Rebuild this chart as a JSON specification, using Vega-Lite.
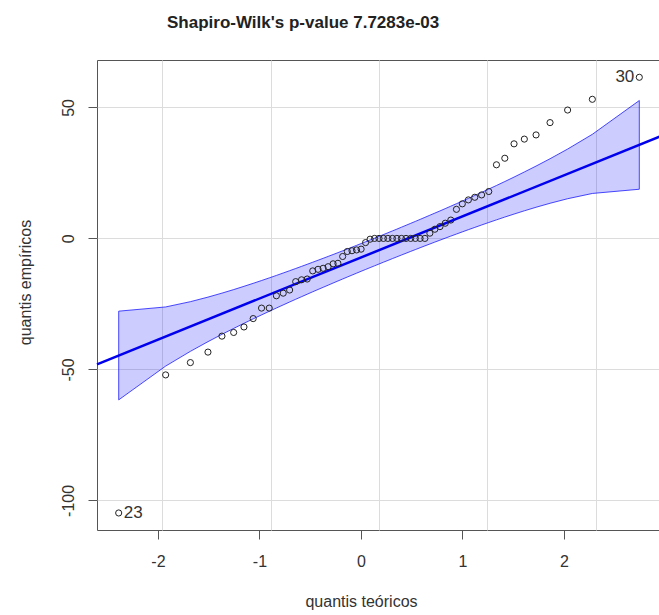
{
  "$schema": "https://vega.github.io/schema/vega-lite/v6.json",
  "width": 564,
  "height": 470,
  "autosize": {"type": "none"},
  "padding": {"left": 97, "top": 60, "right": 0, "bottom": 85},
  "background": "white",
  "config": {
    "font": "Liberation Sans",
    "view": {"stroke": "#555555", "strokeWidth": 1},
    "axis": {
      "labelFont": "Liberation Sans",
      "titleFont": "Liberation Sans",
      "labelFontSize": 16,
      "titleFontSize": 16,
      "labelColor": "#333333",
      "titleColor": "#333333",
      "titleFontWeight": "normal",
      "tickColor": "#555555",
      "tickSize": 9,
      "domain": false,
      "gridColor": "#dcdcdc",
      "gridWidth": 1
    }
  },
  "title": {
    "text": "Shapiro-Wilk's p-value 7.7283e-03",
    "anchor": "start",
    "frame": "group",
    "dx": 70,
    "offset": 15,
    "baseline": "alphabetic",
    "fontSize": 17,
    "fontWeight": "bold",
    "font": "Liberation Sans",
    "color": "#222222"
  },
  "datasets": {
    "pts": [
      {"z": -2.400, "q": -104.8, "label": "23"},
      {"z": -1.967, "q": -52.1},
      {"z": -1.739, "q": -47.4},
      {"z": -1.577, "q": -43.4},
      {"z": -1.448, "q": -37.3},
      {"z": -1.340, "q": -35.9},
      {"z": -1.245, "q": -33.8},
      {"z": -1.160, "q": -30.6},
      {"z": -1.083, "q": -26.6},
      {"z": -1.012, "q": -26.6},
      {"z": -0.946, "q": -21.9},
      {"z": -0.883, "q": -20.9},
      {"z": -0.824, "q": -19.7},
      {"z": -0.768, "q": -16.5},
      {"z": -0.714, "q": -15.8},
      {"z": -0.662, "q": -15.5},
      {"z": -0.611, "q": -12.4},
      {"z": -0.562, "q": -11.8},
      {"z": -0.515, "q": -11.4},
      {"z": -0.469, "q": -10.8},
      {"z": -0.423, "q": -9.7},
      {"z": -0.379, "q": -9.5},
      {"z": -0.335, "q": -6.9},
      {"z": -0.292, "q": -5.0},
      {"z": -0.249, "q": -4.7},
      {"z": -0.207, "q": -4.4},
      {"z": -0.165, "q": -4.1},
      {"z": -0.124, "q": -1.6},
      {"z": -0.082, "q": -0.3},
      {"z": -0.041, "q": 0},
      {"z": 0.000, "q": 0},
      {"z": 0.041, "q": 0},
      {"z": 0.082, "q": 0},
      {"z": 0.124, "q": 0},
      {"z": 0.165, "q": 0},
      {"z": 0.207, "q": 0},
      {"z": 0.249, "q": 0},
      {"z": 0.292, "q": 0},
      {"z": 0.335, "q": 0},
      {"z": 0.379, "q": 0},
      {"z": 0.423, "q": 0},
      {"z": 0.469, "q": 2.0},
      {"z": 0.515, "q": 3.5},
      {"z": 0.562, "q": 4.5},
      {"z": 0.611, "q": 5.8},
      {"z": 0.662, "q": 7.0},
      {"z": 0.714, "q": 11.1},
      {"z": 0.768, "q": 13.2},
      {"z": 0.824, "q": 14.7},
      {"z": 0.883, "q": 15.7},
      {"z": 0.946, "q": 16.6},
      {"z": 1.012, "q": 17.9},
      {"z": 1.083, "q": 28.1},
      {"z": 1.160, "q": 30.6},
      {"z": 1.245, "q": 36.1},
      {"z": 1.340, "q": 37.9},
      {"z": 1.448, "q": 39.5},
      {"z": 1.577, "q": 44.2},
      {"z": 1.739, "q": 49.0},
      {"z": 1.967, "q": 53.1},
      {"z": 2.400, "q": 61.5, "label": "30"}
    ],
    "band": [
      {"z": -2.400, "lo": -61.63, "hi": -27.77},
      {"z": -1.967, "lo": -48.74, "hi": -26.16},
      {"z": -1.739, "lo": -43.11, "hi": -24.15},
      {"z": -1.577, "lo": -39.41, "hi": -22.41},
      {"z": -1.448, "lo": -36.61, "hi": -20.89},
      {"z": -1.340, "lo": -34.36, "hi": -19.54},
      {"z": -1.245, "lo": -32.41, "hi": -18.29},
      {"z": -1.160, "lo": -30.71, "hi": -17.15},
      {"z": -1.083, "lo": -29.20, "hi": -16.08},
      {"z": -1.012, "lo": -27.83, "hi": -15.07},
      {"z": -0.946, "lo": -26.57, "hi": -14.13},
      {"z": -0.883, "lo": -25.38, "hi": -13.20},
      {"z": -0.824, "lo": -24.27, "hi": -12.33},
      {"z": -0.768, "lo": -23.23, "hi": -11.49},
      {"z": -0.714, "lo": -22.25, "hi": -10.67},
      {"z": -0.662, "lo": -21.30, "hi": -9.88},
      {"z": -0.611, "lo": -20.37, "hi": -9.09},
      {"z": -0.562, "lo": -19.49, "hi": -8.33},
      {"z": -0.515, "lo": -18.66, "hi": -7.60},
      {"z": -0.469, "lo": -17.85, "hi": -6.87},
      {"z": -0.423, "lo": -17.03, "hi": -6.15},
      {"z": -0.379, "lo": -16.26, "hi": -5.44},
      {"z": -0.335, "lo": -15.49, "hi": -4.73},
      {"z": -0.292, "lo": -14.74, "hi": -4.04},
      {"z": -0.249, "lo": -14.00, "hi": -3.34},
      {"z": -0.207, "lo": -13.28, "hi": -2.66},
      {"z": -0.165, "lo": -12.55, "hi": -1.97},
      {"z": -0.124, "lo": -11.86, "hi": -1.30},
      {"z": -0.082, "lo": -11.15, "hi": -0.59},
      {"z": -0.041, "lo": -10.46, "hi": 0.08},
      {"z": 0.000, "lo": -9.77, "hi": 0.77},
      {"z": 0.041, "lo": -9.08, "hi": 1.46},
      {"z": 0.082, "lo": -8.41, "hi": 2.15},
      {"z": 0.124, "lo": -7.70, "hi": 2.86},
      {"z": 0.165, "lo": -7.03, "hi": 3.55},
      {"z": 0.207, "lo": -6.34, "hi": 4.28},
      {"z": 0.249, "lo": -5.66, "hi": 5.00},
      {"z": 0.292, "lo": -4.96, "hi": 5.74},
      {"z": 0.335, "lo": -4.27, "hi": 6.49},
      {"z": 0.379, "lo": -3.56, "hi": 7.26},
      {"z": 0.423, "lo": -2.85, "hi": 8.03},
      {"z": 0.469, "lo": -2.13, "hi": 8.85},
      {"z": 0.515, "lo": -1.40, "hi": 9.66},
      {"z": 0.562, "lo": -0.67, "hi": 10.49},
      {"z": 0.611, "lo": 0.09, "hi": 11.37},
      {"z": 0.662, "lo": 0.88, "hi": 12.30},
      {"z": 0.714, "lo": 1.67, "hi": 13.25},
      {"z": 0.768, "lo": 2.49, "hi": 14.23},
      {"z": 0.824, "lo": 3.33, "hi": 15.27},
      {"z": 0.883, "lo": 4.20, "hi": 16.38},
      {"z": 0.946, "lo": 5.13, "hi": 17.57},
      {"z": 1.012, "lo": 6.07, "hi": 18.83},
      {"z": 1.083, "lo": 7.08, "hi": 20.20},
      {"z": 1.160, "lo": 8.15, "hi": 21.71},
      {"z": 1.245, "lo": 9.29, "hi": 23.41},
      {"z": 1.340, "lo": 10.54, "hi": 25.36},
      {"z": 1.448, "lo": 11.89, "hi": 27.61},
      {"z": 1.577, "lo": 13.41, "hi": 30.41},
      {"z": 1.739, "lo": 15.15, "hi": 34.11},
      {"z": 1.967, "lo": 17.16, "hi": 39.74},
      {"z": 2.400, "lo": 18.77, "hi": 52.63}
    ],
    "fit": [
      {"z": -2.6, "y": -48.05},
      {"z": 2.6, "y": 39.05}
    ]
  },
  "layer": [
    {
      "data": {"name": "pts"},
      "mark": {"type": "point", "opacity": 0},
      "encoding": {
        "x": {
          "field": "z",
          "type": "quantitative",
          "scale": {"domain": [-2.6, 2.956], "nice": false, "zero": false},
          "axis": {
            "orient": "bottom",
            "values": [-2, -1, 0, 1, 2],
            "labelExpr": "'' + datum.value",
            "grid": false,
            "title": "quantis teóricos",
            "labelBaseline": "alphabetic",
            "labelPadding": 27,
            "titleX": 264,
            "titleY": 76,
            "titleAlign": "center",
            "titleBaseline": "alphabetic"
          }
        }
      }
    },
    {
      "layer": [
        {
          "data": {"name": "band"},
          "mark": {"type": "area", "fill": "#0000ff", "fillOpacity": 0.2, "stroke": "#0000ff", "strokeWidth": 1, "strokeOpacity": 0.7},
          "encoding": {
            "x": {
              "field": "z",
              "type": "quantitative",
              "scale": {"domain": [-2.6, 2.6], "nice": false, "zero": false},
              "axis": {"orient": "bottom", "values": [-2, -1, 0, 1, 2], "grid": true, "labels": false, "ticks": false, "title": null}
            },
            "y": {
              "field": "lo",
              "type": "quantitative",
              "scale": {"domain": [-111.3, 68.1], "nice": false, "zero": false},
              "axis": {
                "values": [-100, -50, 0, 50],
                "labelExpr": "'' + datum.value",
                "grid": true,
                "labelAngle": -90,
                "labelAlign": "center",
                "labelBaseline": "alphabetic",
                "labelPadding": 15,
                "title": "quantis empíricos",
                "titleAngle": -90,
                "titleX": -67,
                "titleY": 222,
                "titleAlign": "center",
                "titleBaseline": "alphabetic"
              }
            },
            "y2": {"field": "hi"}
          }
        },
        {
          "data": {"name": "fit"},
          "mark": {"type": "line", "color": "#0000ee", "strokeWidth": 2.5},
          "encoding": {
            "x": {"field": "z", "type": "quantitative"},
            "y": {"field": "y", "type": "quantitative"}
          }
        },
        {
          "data": {"name": "pts"},
          "mark": {"type": "point", "shape": "circle", "filled": false, "stroke": "#222222", "strokeWidth": 1, "size": 38, "opacity": 1},
          "encoding": {
            "x": {"field": "z", "type": "quantitative"},
            "y": {"field": "q", "type": "quantitative"}
          }
        },
        {
          "data": {"name": "pts"},
          "transform": [{"filter": "datum.label == '23'"}],
          "mark": {"type": "text", "align": "left", "baseline": "middle", "dx": 5, "fontSize": 17, "color": "#333333"},
          "encoding": {
            "x": {"field": "z", "type": "quantitative"},
            "y": {"field": "q", "type": "quantitative"},
            "text": {"field": "label"}
          }
        },
        {
          "data": {"name": "pts"},
          "transform": [{"filter": "datum.label == '30'"}],
          "mark": {"type": "text", "align": "right", "baseline": "middle", "dx": -5, "fontSize": 17, "color": "#333333"},
          "encoding": {
            "x": {"field": "z", "type": "quantitative"},
            "y": {"field": "q", "type": "quantitative"},
            "text": {"field": "label"}
          }
        }
      ]
    }
  ],
  "resolve": {"scale": {"x": "independent"}, "axis": {"x": "independent"}}
}
